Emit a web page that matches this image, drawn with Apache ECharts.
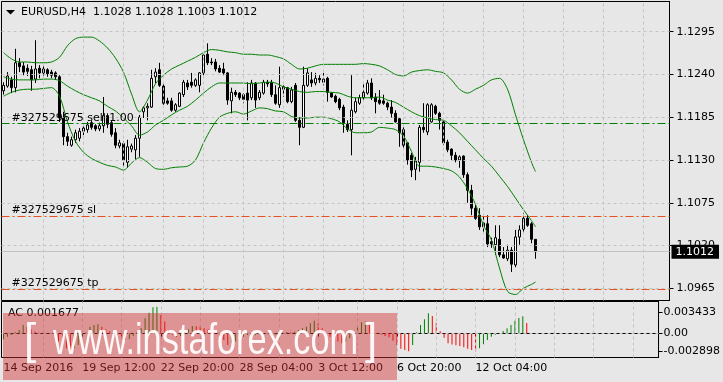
<!DOCTYPE html>
<html>
<head>
<meta charset="utf-8">
<title>EURUSD H4</title>
<script src="https://cdn.jsdelivr.net/npm/echarts@6/dist/echarts.min.js"></script>
<style>
html,body{margin:0;padding:0;background:#e7e7e7;overflow:hidden;}
#chart{width:723px;height:382px;}
</style>
</head>
<body>
<div id="chart"></div>
<script>
const symbolName = 'EURUSD,H4';
const tickIdx = [0, 20, 40, 60, 80, 100, 120];
const tickLabels = ['14 Sep 2016', '19 Sep 12:00', '22 Sep 20:00', '28 Sep 04:00', '3 Oct 12:00', '6 Oct 20:00', '12 Oct 04:00'];

const opens = [
 1.1219,1.1225,1.1233,1.1223,1.1255,1.1251,1.1248,1.1246,1.1234,1.1248,
 1.1242,1.1246,1.1243,1.1242,1.1237,1.1184,1.1160,1.1149,1.1156,1.1158,
 1.1167,1.1169,1.1178,1.1174,1.1170,1.1174,1.1187,1.1178,1.1165,1.1148,
 1.1151,1.1127,1.1144,1.1143,1.1158,1.1192,1.1197,1.1198,1.1237,1.1246,
 1.1225,1.1206,1.1206,1.1194,1.1199,1.1214,1.1229,1.1230,1.1226,1.1226,
 1.1242,1.1266,1.1256,1.1256,1.1248,1.1247,1.1242,1.1206,1.1217,1.1216,
 1.1214,1.1216,1.1210,1.1229,1.1210,1.1216,1.1230,1.1230,1.1214,1.1201,
 1.1224,1.1223,1.1205,1.1226,1.1181,1.1172,1.1226,1.1233,1.1229,1.1235,
 1.1230,1.1235,1.1216,1.1212,1.1208,1.1198,1.1176,1.1169,1.1192,1.1203,
 1.1210,1.1216,1.1229,1.1211,1.1207,1.1206,1.1203,1.1198,1.1190,1.1183,
 1.1169,1.1152,1.1136,1.1118,1.1127,1.1172,1.1166,1.1179,1.1199,1.1190,
 1.1179,1.1153,1.1144,1.1136,1.1130,1.1135,1.1111,1.1091,1.1068,1.1059,
 1.1044,1.1048,1.1025,1.1021,1.1028,1.1008,1.1003,1.1014,1.0995,1.1031,
 1.1041,1.1055,1.1048,1.1028
];
const closes = [
 1.1226,1.1238,1.1223,1.1255,1.1250,1.1243,1.1244,1.1233,1.1247,1.1242,
 1.1247,1.1241,1.1239,1.1237,1.1184,1.1160,1.1154,1.1156,1.1165,1.1167,
 1.1171,1.1175,1.1172,1.1170,1.1174,1.1187,1.1176,1.1163,1.1149,1.1152,
 1.1130,1.1147,1.1148,1.1158,1.1185,1.1197,1.1199,1.1235,1.1243,1.1226,
 1.1203,1.1203,1.1194,1.1201,1.1216,1.1230,1.1224,1.1226,1.1233,1.1242,
 1.1265,1.1255,1.1255,1.1247,1.1243,1.1242,1.1207,1.1217,1.1214,1.1210,
 1.1208,1.1207,1.1229,1.1207,1.1217,1.1230,1.1228,1.1214,1.1203,1.1223,
 1.1221,1.1205,1.1220,1.1181,1.1172,1.1226,1.1242,1.1229,1.1235,1.1233,
 1.1234,1.1217,1.1211,1.1205,1.1197,1.1178,1.1169,1.1194,1.1205,1.1210,
 1.1217,1.1229,1.1210,1.1205,1.1203,1.1203,1.1198,1.1190,1.1179,1.1165,
 1.1149,1.1130,1.1117,1.1129,1.1172,1.1169,1.1201,1.1201,1.1190,1.1181,
 1.1152,1.1143,1.1136,1.1130,1.1134,1.1111,1.1091,1.1068,1.1055,1.1044,
 1.1049,1.1022,1.1022,1.1030,1.1008,1.1004,1.1014,1.0996,1.1031,1.1040,
 1.1055,1.1046,1.1028,1.1012
];
const lows = [
 1.1214,1.1223,1.1216,1.1217,1.1243,1.1239,1.1238,1.1219,1.1229,1.1235,
 1.1238,1.1237,1.1235,1.1233,1.1179,1.1149,1.1148,1.1147,1.1152,1.1154,
 1.1162,1.1165,1.1169,1.1167,1.1167,1.1165,1.1171,1.1160,1.1145,1.1145,
 1.1121,1.1120,1.1140,1.1131,1.1134,1.1184,1.1181,1.1197,1.1229,1.1224,
 1.1201,1.1201,1.1192,1.1192,1.1198,1.1211,1.1220,1.1223,1.1224,1.1217,
 1.1239,1.1252,1.1252,1.1244,1.1242,1.1239,1.1201,1.1190,1.1211,1.1207,
 1.1203,1.1181,1.1207,1.1197,1.1207,1.1214,1.1224,1.1211,1.1201,1.1197,
 1.1211,1.1203,1.1203,1.1179,1.1149,1.1171,1.1224,1.1224,1.1226,1.1229,
 1.1226,1.1205,1.1210,1.1203,1.1194,1.1165,1.1166,1.1136,1.1190,1.1201,
 1.1207,1.1214,1.1207,1.1190,1.1201,1.1201,1.1194,1.1184,1.1178,1.1147,
 1.1145,1.1124,1.1108,1.1104,1.1115,1.1165,1.1162,1.1178,1.1188,1.1169,
 1.1149,1.1140,1.1130,1.1127,1.1120,1.1107,1.1075,1.1059,1.1053,1.1040,
 1.1037,1.1018,1.1017,1.1008,1.1005,1.1003,1.1000,1.0986,1.0992,1.1021,
 1.1037,1.1044,1.1023,1.1003
];
const highs = [
 1.1230,1.1243,1.1237,1.1273,1.1261,1.1256,1.1253,1.1251,1.1284,1.1252,
 1.1251,1.1248,1.1246,1.1244,1.1239,1.1192,1.1165,1.1160,1.1169,1.1171,
 1.1175,1.1179,1.1181,1.1176,1.1178,1.1211,1.1190,1.1181,1.1171,1.1156,
 1.1154,1.1156,1.1151,1.1162,1.1188,1.1199,1.1203,1.1246,1.1248,1.1255,
 1.1229,1.1210,1.1210,1.1203,1.1217,1.1233,1.1233,1.1242,1.1235,1.1243,
 1.1268,1.1280,1.1261,1.1260,1.1252,1.1255,1.1243,1.1223,1.1220,1.1217,
 1.1216,1.1230,1.1233,1.1230,1.1220,1.1233,1.1233,1.1233,1.1226,1.1250,
 1.1226,1.1224,1.1224,1.1229,1.1185,1.1250,1.1248,1.1243,1.1242,1.1239,
 1.1242,1.1237,1.1217,1.1214,1.1210,1.1201,1.1181,1.1239,1.1210,1.1214,
 1.1230,1.1233,1.1235,1.1216,1.1220,1.1214,1.1205,1.1207,1.1194,1.1185,
 1.1172,1.1153,1.1139,1.1134,1.1175,1.1203,1.1203,1.1203,1.1201,1.1192,
 1.1181,1.1156,1.1145,1.1140,1.1136,1.1136,1.1114,1.1098,1.1072,1.1068,
 1.1059,1.1059,1.1030,1.1046,1.1046,1.1018,1.1021,1.1018,1.1040,1.1046,
 1.1062,1.1059,1.1050,1.1028
];

// Bollinger band readings at these bar indices
const bandIdx = [0,2,4,6,8,10,12,14,16,18,20,22,24,26,28,30,32,34,36,38,40,42,44,46,48,50,52,54,56,58,60,62,64,66,68,70,72,74,76,78,80,82,84,86,88,90,92,94,96,98,100,102,104,106,108,110,112,114,116,118,120,122,124,126,128,130,132,133];
const bbUpper = [
 1.1268,1.1260,1.1256,1.1256,1.1255,1.1255,1.1256,1.1262,1.1277,1.1286,
 1.1288,1.1288,1.1283,1.1274,1.1261,1.1243,1.1215,1.1192,1.1207,1.1228,
 1.1239,1.1247,1.1252,1.1257,1.1262,1.1268,1.1272,1.1271,1.1269,1.1268,
 1.1266,1.1266,1.1265,1.1265,1.1263,1.1260,1.1253,1.1247,1.1248,1.1251,
 1.1253,1.1253,1.1253,1.1253,1.1253,1.1254,1.1253,1.1251,1.1246,1.1240,
 1.1238,1.1243,1.1245,1.1246,1.1244,1.1242,1.1233,1.1221,1.1216,1.1221,
 1.1226,1.1233,1.1235,1.1221,1.1188,1.1156,1.1127,1.1115
];
const bbMiddle = [
 1.1237,1.1234,1.1233,1.1233,1.1233,1.1234,1.1234,1.1232,1.1225,1.1219,
 1.1214,1.1210,1.1206,1.1199,1.1193,1.1184,1.1174,1.1162,1.1166,1.1175,
 1.1181,1.1188,1.1194,1.1199,1.1207,1.1216,1.1224,1.1229,1.1229,1.1229,
 1.1229,1.1228,1.1229,1.1230,1.1229,1.1224,1.1221,1.1218,1.1217,1.1218,
 1.1218,1.1217,1.1216,1.1212,1.1210,1.1210,1.1210,1.1211,1.1207,1.1204,
 1.1198,1.1192,1.1187,1.1184,1.1182,1.1181,1.1174,1.1165,1.1154,1.1143,
 1.1132,1.1122,1.1109,1.1096,1.1081,1.1066,1.1052,1.1044
];
const bbLower = [
 1.1212,1.1217,1.1220,1.1221,1.1221,1.1222,1.1223,1.1212,1.1179,1.1154,
 1.1140,1.1132,1.1127,1.1123,1.1121,1.1117,1.1126,1.1133,1.1127,1.1119,
 1.1118,1.1120,1.1121,1.1122,1.1130,1.1152,1.1171,1.1185,1.1190,1.1192,
 1.1189,1.1193,1.1197,1.1196,1.1193,1.1192,1.1186,1.1184,1.1184,1.1185,
 1.1185,1.1183,1.1179,1.1170,1.1165,1.1165,1.1166,1.1172,1.1171,1.1169,
 1.1161,1.1141,1.1122,1.1122,1.1121,1.1119,1.1116,1.1108,1.1093,1.1073,
 1.1046,1.1027,1.0991,1.0961,1.0957,1.0965,1.0970,1.0973
];

// Accelerator Oscillator
const acValues = [
 -0.00098,-0.00055,-0.00027,0.00016,0.00055,0.00136,0.00109,0.00065,0.00027,0.00011,
 -0.00005,0.00003,-0.00011,-0.00044,-0.00136,-0.00191,-0.00245,-0.00300,-0.00245,-0.00191,
 -0.00098,0.00011,0.00109,0.00136,0.00147,0.00109,0.00065,0.00033,0.00011,-0.00027,
 -0.00055,-0.00109,-0.00093,-0.00044,0.00027,0.00082,0.00245,0.00338,0.00425,0.00436,
 0.00300,0.00191,0.00055,-0.00027,-0.00055,-0.00044,0.00027,0.00065,0.00120,0.00114,
 0.00109,0.00082,0.00065,0.00027,0.00011,-0.00044,-0.00109,-0.00191,-0.00164,-0.00136,
 -0.00082,-0.00055,-0.00027,-0.00044,-0.00033,-0.00016,-0.00027,-0.00016,-0.00033,-0.00022,
 -0.00011,0.00011,0.00022,0.00016,0.00027,0.00055,0.00082,0.00109,0.00164,0.00207,
 0.00164,0.00082,0.00011,-0.00055,-0.00098,-0.00136,-0.00164,-0.00136,-0.00082,-0.00027,
 0.00098,0.00180,0.00191,0.00147,0.00065,0.00011,-0.00022,-0.00044,-0.00065,-0.00120,
 -0.00191,-0.00251,-0.00273,-0.00294,-0.00191,0.00016,0.00136,0.00229,0.00327,0.00283,
 0.00164,0.00033,-0.00071,-0.00164,-0.00185,-0.00196,-0.00207,-0.00229,-0.00251,-0.00273,
 -0.00294,-0.00245,-0.00180,-0.00109,-0.00055,-0.00022,-0.00011,0.00038,0.00082,0.00136,
 0.00207,0.00251,0.00278,0.001677
];

const priceTicks = [1.0965, 1.1020, 1.1075, 1.1130, 1.1185, 1.1240, 1.1295];
const acTicks = [-0.002898, 0, 0.003433];
const orderLevels = [1.1177, 1.1058, 1.0964];
const orderLabels = ['#327529675 sell 1.00', '#327529675 sl', '#327529675 tp'];
const orderKinds = ['entry', 'stop', 'stop'];

const slotCount = 167;
const FONT = 'DejaVu Sans';
const GREEN = '#008000', RED = '#ff0000', ORDER_RED = '#e8501e', GRID = '#c4c4c4';

const cats = Array.from({length: slotCount}, (_, i) => String(i));
const vGrid = [];
for (let i = 10; i < slotCount; i += 10) vGrid.push(i);
const candleData = opens.map((o, i) => [o, closes[i], lows[i], highs[i]]);
const pairs = arr => bandIdx.map((b, k) => [b, arr[k]]);
const last = opens.length - 1;
const lastClose = closes[last];

const gridMarks = (yVals) => ({
  silent: true, symbol: ['none', 'none'], animation: false, precision: 8,
  label: {show: false},
  lineStyle: {color: GRID, type: [3, 3], width: 1},
  data: yVals.map(v => ({yAxis: v})).concat(vGrid.map(x => ({xAxis: x})))
});

const orderMarks = {
  silent: true, symbol: ['none', 'none'], animation: false, precision: 8,
  data: orderLevels.map((v, k) => ({
    yAxis: v,
    lineStyle: {color: orderKinds[k] === 'entry' ? GREEN : ORDER_RED, type: [8, 3, 2, 3], width: 1},
    label: {show: true, position: 'insideStartTop', formatter: orderLabels[k], color: '#000',
            fontSize: 11, fontFamily: FONT, distance: [10, 0]}
  })).concat([{
    yAxis: lastClose,
    lineStyle: {color: '#c3c3c3', type: 'solid', width: 1},
    label: {show: true, position: 'end', formatter: lastClose.toFixed(4), color: '#fff',
            backgroundColor: '#000', padding: [1, 5, 1, 4], fontSize: 11, fontFamily: FONT,
            lineHeight: 12, distance: 2}
  }])
};

const chart = echarts.init(document.getElementById('chart'), null, {renderer: 'canvas'});
const wmText = 'rgba(255,255,255,0.93)';
chart.setOption({
  animation: false,
  backgroundColor: '#e7e7e7',
  textStyle: {fontFamily: FONT},
  grid: [
    {left: 1.5, top: 1.5, width: 668, height: 299, show: true, borderColor: '#000', borderWidth: 1, backgroundColor: 'transparent'},
    {left: 1.5, top: 301.5, width: 668, height: 56, show: true, borderColor: '#000', borderWidth: 1, backgroundColor: 'transparent'}
  ],
  xAxis: [
    {type: 'category', gridIndex: 0, data: cats, boundaryGap: true, show: false},
    {type: 'category', gridIndex: 1, data: cats, boundaryGap: true, position: 'bottom',
     axisLine: {show: true, lineStyle: {color: '#000', width: 1}},
     axisTick: {show: true, alignWithLabel: true, interval: (i) => tickIdx.includes(i), length: 4, lineStyle: {color: '#000'}},
     axisLabel: {show: true, interval: (i) => tickIdx.includes(i),
                 formatter: (v, i) => { const k = tickIdx.indexOf(i); return k >= 0 ? tickLabels[k] : ''; },
                 align: 'left', color: '#000', fontSize: 11, fontFamily: FONT, margin: 5},
     splitLine: {show: false}}
  ],
  yAxis: [
    {type: 'value', gridIndex: 0, position: 'right', min: 1.09493, max: 1.13338,
     splitLine: {show: false},
     axisLine: {show: true, lineStyle: {color: '#000'}},
     axisTick: {show: true, customValues: priceTicks, length: 4, lineStyle: {color: '#000'}},
     axisLabel: {show: true, customValues: priceTicks, formatter: v => v.toFixed(4), color: '#000', fontSize: 11, fontFamily: FONT, margin: 7}},
    {type: 'value', gridIndex: 1, position: 'right', min: -0.0039567, max: 0.0051993,
     splitLine: {show: false},
     axisLine: {show: true, lineStyle: {color: '#000'}},
     axisTick: {show: true, customValues: acTicks, length: 4, lineStyle: {color: '#000'}},
     axisLabel: {show: true, customValues: acTicks, formatter: v => (v === 0 ? '0.00' : v.toFixed(6)), color: '#000', fontSize: 11, fontFamily: FONT, margin: 5}}
  ],
  series: [
    {type: 'line', xAxisIndex: 0, yAxisIndex: 0, data: [], z: 1, silent: true, markLine: gridMarks(priceTicks)},
    {type: 'line', xAxisIndex: 1, yAxisIndex: 1, data: [], z: 1, silent: true, markLine: gridMarks([0])},
    {type: 'line', xAxisIndex: 0, yAxisIndex: 0, data: [], z: 2, silent: true, markLine: orderMarks},
    {type: 'candlestick', xAxisIndex: 0, yAxisIndex: 0, data: candleData, barWidth: 2, z: 3, silent: true,
     itemStyle: {color: '#ffffff', color0: '#000000', borderColor: '#000000', borderColor0: '#000000', borderWidth: 1}},
    {type: 'line', xAxisIndex: 0, yAxisIndex: 0, data: pairs(bbUpper), z: 4, showSymbol: false, smooth: 0.3, silent: true,
     lineStyle: {color: GREEN, width: 1}},
    {type: 'line', xAxisIndex: 0, yAxisIndex: 0, data: pairs(bbMiddle), z: 4, showSymbol: false, smooth: 0.3, silent: true,
     lineStyle: {color: GREEN, width: 1}},
    {type: 'line', xAxisIndex: 0, yAxisIndex: 0, data: pairs(bbLower), z: 4, showSymbol: false, smooth: 0.3, silent: true,
     lineStyle: {color: GREEN, width: 1}},
    {type: 'bar', xAxisIndex: 1, yAxisIndex: 1, data: acValues, barWidth: 1, z: 3, silent: true,
     itemStyle: {color: p => (p.dataIndex > 0 && acValues[p.dataIndex] < acValues[p.dataIndex - 1]) ? RED : GREEN}}
  ],
  graphic: [
    {type: 'polygon', shape: {points: [[6, 10], [15, 10], [10.5, 14.5]]}, style: {fill: '#000'}, z: 50},
    {type: 'text', x: 21, y: 12.5, z: 50,
     style: {text: symbolName + '  ' + [opens[last], highs[last], lows[last], closes[last]].map(v => v.toFixed(4)).join(' '),
             fill: '#000', font: '11px "DejaVu Sans"', verticalAlign: 'middle', align: 'left'}},
    {type: 'text', x: 8, y: 313.5, z: 50,
     style: {text: 'AC ' + acValues[last].toFixed(6), fill: '#000', font: '11px "DejaVu Sans"', verticalAlign: 'middle', align: 'left'}},
    {type: 'rect', shape: {x: 3, y: 313, width: 394, height: 67}, style: {fill: 'rgba(211,47,47,0.45)'}, z: 100},
    {type: 'text', x: 24, y: 342, z: 101,
     style: {text: '[', fill: wmText, font: '44px "Liberation Sans"', verticalAlign: 'middle', align: 'left'}},
    {type: 'text', x: 53, y: 342, scaleX: 0.78, z: 101,
     style: {text: 'www.instaforex.com', fill: wmText, font: '44px "Liberation Sans"', verticalAlign: 'middle', align: 'left'}},
    {type: 'text', x: 365, y: 342, z: 101,
     style: {text: ']', fill: wmText, font: '44px "Liberation Sans"', verticalAlign: 'middle', align: 'left'}}
  ]
});
</script>
</body>
</html>
